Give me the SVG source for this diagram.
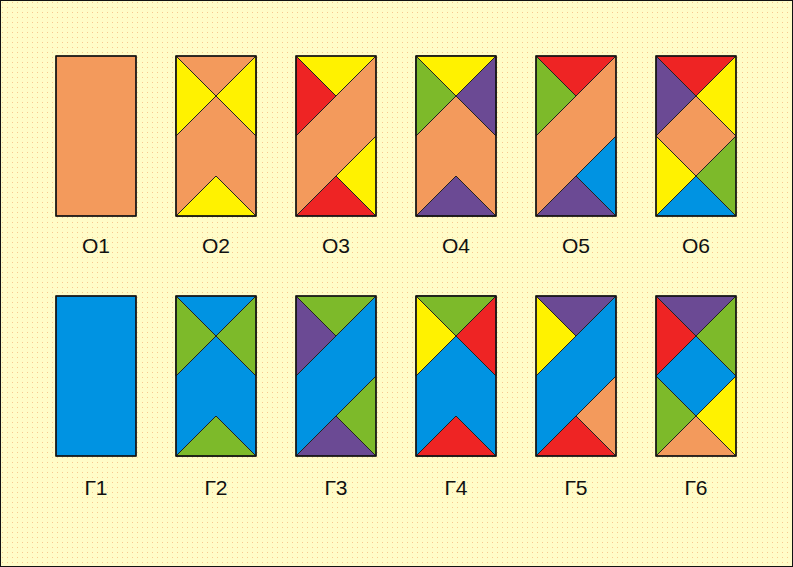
<svg xmlns="http://www.w3.org/2000/svg" width="793" height="567" viewBox="0 0 793 567">
<style>
.o{fill:#F39A5C}.y{fill:#FFF200}.r{fill:#EE2424}.g{fill:#7DBA2A}.p{fill:#6B4A94}.b{fill:#0093E2}
polygon,rect.t{stroke:#222;stroke-width:1;stroke-linejoin:round}
rect.f{fill:none;stroke:#111;stroke-width:1.5}
text{font-family:"Liberation Sans",Arial,sans-serif;font-size:21px;fill:#111;text-anchor:middle}
</style>
<defs>
<pattern id="dots" width="5" height="5" patternUnits="userSpaceOnUse">
<rect width="5" height="5" fill="#FFFCC8"/>
<rect x="2" y="2" width="1" height="1" fill="#F6C890"/>
</pattern>
</defs>
<rect x="0.5" y="0.5" width="792" height="566" fill="url(#dots)" stroke="#111" stroke-width="1"/>

<g id="O1" transform="translate(56,56)">
<rect class="t o" width="80" height="160"/>
<rect class="f" width="80" height="160"/>
</g>
<g id="O2" transform="translate(176,56)">
<rect class="t o" width="80" height="160"/>
<polygon class="y" points="0,0 40,40 0,80"/>
<polygon class="y" points="80,0 40,40 80,80"/>
<polygon class="y" points="0,160 40,120 80,160"/>
<rect class="f" width="80" height="160"/>
</g>
<g id="O3" transform="translate(296,56)">
<polygon class="y" points="0,0 80,0 40,40"/>
<polygon class="r" points="0,0 40,40 0,80"/>
<polygon class="o" points="0,80 80,0 80,80 0,160"/>
<polygon class="y" points="80,80 80,160 40,120"/>
<polygon class="r" points="0,160 40,120 80,160"/>
<rect class="f" width="80" height="160"/>
</g>
<g id="O4" transform="translate(416,56)">
<rect class="t o" width="80" height="160"/>
<polygon class="y" points="0,0 80,0 40,40"/>
<polygon class="g" points="0,0 40,40 0,80"/>
<polygon class="p" points="80,0 40,40 80,80"/>
<polygon class="p" points="0,160 40,120 80,160"/>
<rect class="f" width="80" height="160"/>
</g>
<g id="O5" transform="translate(536,56)">
<polygon class="r" points="0,0 80,0 40,40"/>
<polygon class="g" points="0,0 40,40 0,80"/>
<polygon class="o" points="0,80 80,0 80,80 0,160"/>
<polygon class="b" points="80,80 80,160 40,120"/>
<polygon class="p" points="0,160 40,120 80,160"/>
<rect class="f" width="80" height="160"/>
</g>
<g id="O6" transform="translate(656,56)">
<polygon class="r" points="0,0 80,0 40,40"/>
<polygon class="p" points="0,0 40,40 0,80"/>
<polygon class="y" points="80,0 40,40 80,80"/>
<polygon class="o" points="40,40 80,80 40,120 0,80"/>
<polygon class="y" points="0,80 40,120 0,160"/>
<polygon class="g" points="80,80 80,160 40,120"/>
<polygon class="b" points="0,160 40,120 80,160"/>
<rect class="f" width="80" height="160"/>
</g>

<g id="G1" transform="translate(56,296)">
<rect class="t b" width="80" height="160"/>
<rect class="f" width="80" height="160"/>
</g>
<g id="G2" transform="translate(176,296)">
<rect class="t b" width="80" height="160"/>
<polygon class="g" points="0,0 40,40 0,80"/>
<polygon class="g" points="80,0 40,40 80,80"/>
<polygon class="g" points="0,160 40,120 80,160"/>
<rect class="f" width="80" height="160"/>
</g>
<g id="G3" transform="translate(296,296)">
<polygon class="g" points="0,0 80,0 40,40"/>
<polygon class="p" points="0,0 40,40 0,80"/>
<polygon class="b" points="0,80 80,0 80,80 0,160"/>
<polygon class="g" points="80,80 80,160 40,120"/>
<polygon class="p" points="0,160 40,120 80,160"/>
<rect class="f" width="80" height="160"/>
</g>
<g id="G4" transform="translate(416,296)">
<rect class="t b" width="80" height="160"/>
<polygon class="g" points="0,0 80,0 40,40"/>
<polygon class="y" points="0,0 40,40 0,80"/>
<polygon class="r" points="80,0 40,40 80,80"/>
<polygon class="r" points="0,160 40,120 80,160"/>
<rect class="f" width="80" height="160"/>
</g>
<g id="G5" transform="translate(536,296)">
<polygon class="p" points="0,0 80,0 40,40"/>
<polygon class="y" points="0,0 40,40 0,80"/>
<polygon class="b" points="0,80 80,0 80,80 0,160"/>
<polygon class="o" points="80,80 80,160 40,120"/>
<polygon class="r" points="0,160 40,120 80,160"/>
<rect class="f" width="80" height="160"/>
</g>
<g id="G6" transform="translate(656,296)">
<polygon class="p" points="0,0 80,0 40,40"/>
<polygon class="r" points="0,0 40,40 0,80"/>
<polygon class="g" points="80,0 40,40 80,80"/>
<polygon class="b" points="40,40 80,80 40,120 0,80"/>
<polygon class="g" points="0,80 40,120 0,160"/>
<polygon class="y" points="80,80 80,160 40,120"/>
<polygon class="o" points="0,160 40,120 80,160"/>
<rect class="f" width="80" height="160"/>
</g>

<g id="labels">
<text x="96" y="253">О1</text>
<text x="216" y="253">О2</text>
<text x="336" y="253">О3</text>
<text x="456" y="253">О4</text>
<text x="576" y="253">О5</text>
<text x="696" y="253">О6</text>
<text x="96" y="495">Г1</text>
<text x="216" y="495">Г2</text>
<text x="336" y="495">Г3</text>
<text x="456" y="495">Г4</text>
<text x="576" y="495">Г5</text>
<text x="696" y="495">Г6</text>
</g>
</svg>
